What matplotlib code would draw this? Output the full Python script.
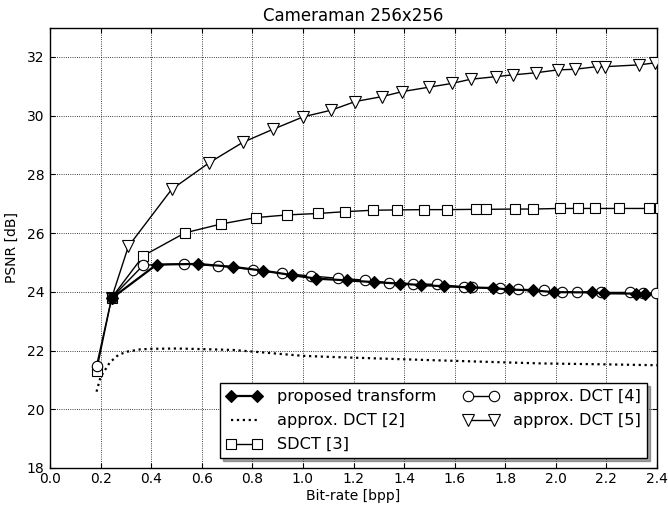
import matplotlib
matplotlib.use("Agg")
import matplotlib.pyplot as plt

# ---- data ----
prop_x = [0.244, 0.422, 0.584, 0.725, 0.843, 0.957, 1.052, 1.175, 1.282, 1.385,
          1.467, 1.558, 1.660, 1.752, 1.814, 1.910, 1.992, 2.144, 2.192, 2.315, 2.354]
prop_y = [23.78, 24.93, 24.95, 24.85, 24.72, 24.57, 24.45, 24.39, 24.33, 24.28,
          24.23, 24.19, 24.15, 24.13, 24.08, 24.05, 23.99, 23.98, 23.95, 23.94, 23.92]

dct2_x = [0.184, 0.200, 0.237, 0.270, 0.303, 0.356, 0.400, 0.500, 0.600, 0.725,
          0.850, 1.000, 1.120, 1.300, 1.520, 1.750, 1.950, 2.200, 2.400]
dct2_y = [20.60, 21.10, 21.60, 21.85, 21.96, 22.04, 22.06, 22.07, 22.05, 22.02,
          21.93, 21.82, 21.78, 21.73, 21.67, 21.61, 21.56, 21.53, 21.50]

sdct_x = [0.184, 0.244, 0.369, 0.534, 0.676, 0.815, 0.938, 1.061, 1.166, 1.277,
          1.373, 1.478, 1.570, 1.686, 1.725, 1.840, 1.909, 2.015, 2.088, 2.154,
          2.249, 2.368, 2.410]
sdct_y = [21.31, 23.80, 25.23, 26.01, 26.31, 26.53, 26.62, 26.67, 26.73, 26.78,
          26.79, 26.80, 26.80, 26.81, 26.81, 26.82, 26.82, 26.84, 26.84, 26.84,
          26.84, 26.84, 26.84]

dct4_x = [0.184, 0.244, 0.369, 0.531, 0.665, 0.804, 0.918, 1.032, 1.140, 1.245,
          1.342, 1.437, 1.530, 1.636, 1.669, 1.781, 1.849, 1.953, 2.025, 2.084,
          2.178, 2.295, 2.343, 2.398]
dct4_y = [21.48, 23.80, 24.91, 24.95, 24.88, 24.76, 24.63, 24.54, 24.46, 24.40,
          24.31, 24.28, 24.25, 24.17, 24.15, 24.12, 24.09, 24.06, 24.00, 24.00,
          23.98, 23.98, 23.97, 23.95]

dct5_x = [0.244, 0.310, 0.481, 0.630, 0.762, 0.880, 1.001, 1.113, 1.206, 1.313,
          1.393, 1.498, 1.590, 1.663, 1.764, 1.830, 1.920, 2.008, 2.074, 2.163,
          2.196, 2.328, 2.394]
dct5_y = [23.80, 25.55, 27.49, 28.40, 29.09, 29.53, 29.96, 30.19, 30.48, 30.65,
          30.82, 30.97, 31.10, 31.24, 31.33, 31.39, 31.46, 31.56, 31.58, 31.67,
          31.67, 31.73, 31.80]

xticks = [0.0, 0.2, 0.4, 0.6, 0.8, 1.0, 1.2, 1.4, 1.6, 1.8, 2.0, 2.2, 2.4]
yticks = [18, 20, 22, 24, 26, 28, 30, 32]

plt.rcParams['font.family'] = ['DejaVu Sans']

fig = plt.figure(figsize=(6.68, 5.05), dpi=100, facecolor='white')
ax = fig.add_axes([50/668, 1-468/505, 607/668, (468-27.6)/505])

l2, = ax.plot(dct2_x, dct2_y, color='k', linestyle=':', linewidth=1.6,
              label='approx. DCT [2]', zorder=2)
l5, = ax.plot(dct5_x, dct5_y, color='k', linewidth=1.0, marker='v', markersize=9,
              markerfacecolor='white', markeredgecolor='k', markeredgewidth=0.8,
              label='approx. DCT [5]', zorder=3)
l3, = ax.plot(sdct_x, sdct_y, color='k', linewidth=1.0, marker='s', markersize=7.5,
              markerfacecolor='white', markeredgecolor='k', markeredgewidth=0.8,
              label='SDCT [3]', zorder=4)
l4, = ax.plot(dct4_x, dct4_y, color='k', linewidth=1.0, marker='o', markersize=7.5,
              markerfacecolor='white', markeredgecolor='k', markeredgewidth=0.8,
              label='approx. DCT [4]', zorder=5)
l1, = ax.plot(prop_x, prop_y, color='k', linewidth=1.6, marker='D', markersize=6.5,
              markerfacecolor='k', markeredgecolor='k', markeredgewidth=0.8,
              label='proposed transform', zorder=6)

ax.set_xlim(0.0, 2.4)
ax.set_ylim(18, 33)
ax.set_xticks(xticks)
ax.set_yticks(yticks)
ax.set_xticklabels([f"{v:.1f}" for v in xticks])
ax.set_yticklabels([str(v) for v in yticks])
ax.tick_params(direction='in', top=True, right=True, length=3.5, width=0.8,
               labelsize=10, pad=4)
ax.tick_params(axis='x', pad=3)
ax.grid(True, color='k', linestyle=':', linewidth=0.6)
for s in ax.spines.values():
    s.set_linewidth(1.0)

ax.set_title('Cameraman 256x256', fontsize=12, pad=5)
ax.set_xlabel('Bit-rate [bpp]', fontsize=10, labelpad=2)
ax.set_ylabel('PSNR [dB]', fontsize=10, labelpad=6)

leg = ax.legend([l1, l2, l3, l4, l5],
                ['proposed transform', 'approx. DCT [2]', 'SDCT [3]',
                 'approx. DCT [4]', 'approx. DCT [5]'],
                loc='lower right', ncol=2, numpoints=2, fontsize=11.6,
                shadow=True, fancybox=False, framealpha=1.0,
                handlelength=2.2, handletextpad=0.9, columnspacing=1.7,
                labelspacing=0.55, borderpad=0.38, borderaxespad=0.6,
                edgecolor='k')
leg.get_frame().set_linewidth(1.0)
leg.set_zorder(10)

fig.savefig('out.png', dpi=100, facecolor='white')
